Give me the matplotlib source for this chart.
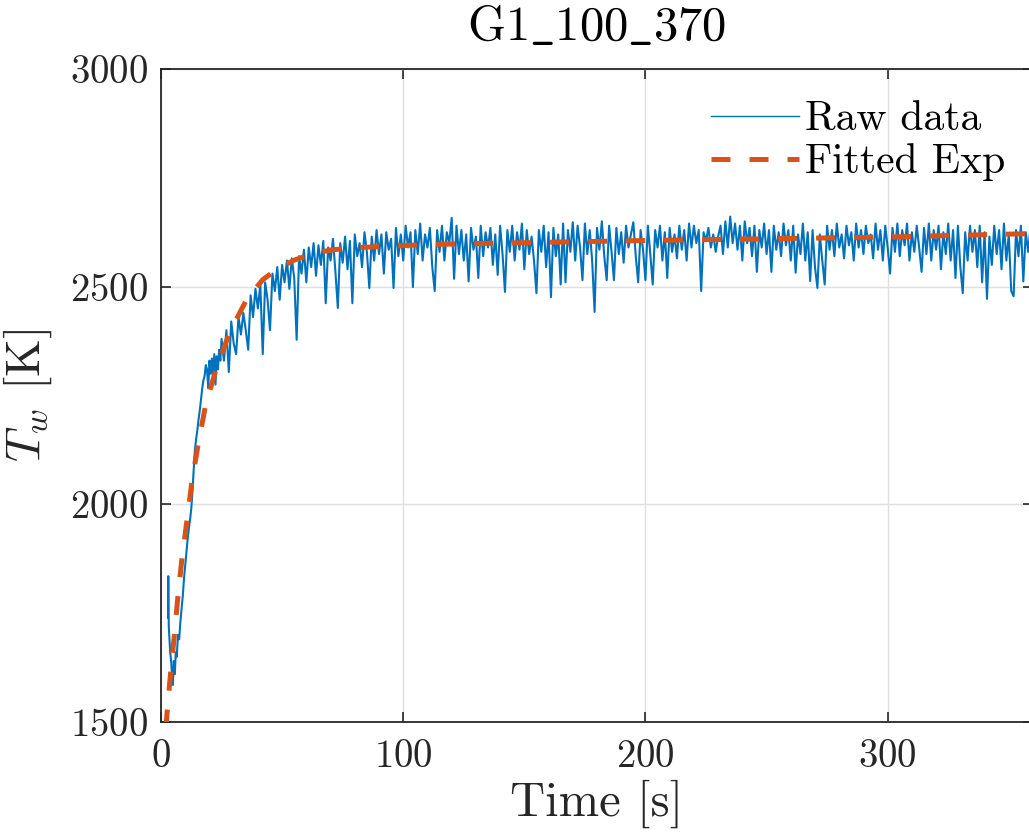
import numpy as np
import matplotlib
matplotlib.use("Agg")
import matplotlib.pyplot as plt

# ---------------- data ----------------
# early rise of the raw signal (explicit sample times)
rise_t = [2.9, 3.0, 3.2, 3.5, 3.8, 4.2, 4.6, 4.9, 5.3, 5.7, 6.1, 6.5, 7.0, 7.5,
          8.0, 8.5, 9.0, 9.5, 10.0, 10.5, 11.0, 11.5, 12.0, 12.5, 13.0, 13.5,
          14.0, 14.5, 15.0, 15.5, 16.0, 16.5, 17.0, 17.5, 18.0, 18.5, 19.0,
          19.5, 20.0, 20.5, 21.0, 21.5, 22.0, 22.5, 23.0, 23.5, 24.0, 24.5]
rise_T = [1740, 1835, 1720, 1690, 1660, 1640, 1600, 1585, 1640, 1610, 1660, 1650,
          1700, 1690, 1730, 1760, 1790, 1830, 1860, 1890, 1920, 1945, 1965, 1990,
          2030, 2080, 2125, 2150, 2170, 2195, 2215, 2240, 2265, 2285, 2295, 2320,
          2310, 2267, 2330, 2300, 2335, 2290, 2345, 2275, 2340, 2310, 2355, 2330]

# plateau of the raw signal, one sample per second from t = 25 s
plateau_start = 25
plateau_T = [
    2380, 2330, 2400, 2304, 2420, 2370, 2345, 2430, 2390, 2440,
    2400, 2355, 2480, 2430, 2495, 2450, 2505, 2345, 2510, 2470,
    2400, 2530, 2490, 2545, 2470, 2550, 2510, 2560, 2495, 2565,
    2520, 2378, 2570, 2530, 2585, 2510, 2590, 2545, 2600, 2525,
    2595, 2550, 2605, 2462, 2590, 2560, 2610, 2535, 2451, 2600,
    2555, 2615, 2540, 2605, 2462, 2620, 2570, 2600, 2545, 2625,
    2580, 2497, 2615, 2560, 2630, 2575, 2620, 2530, 2625, 2585,
    2610, 2497, 2635, 2570, 2620, 2560, 2640, 2590, 2625, 2499,
    2630, 2575, 2645, 2560, 2620, 2590, 2635, 2545, 2490, 2630,
    2580, 2640, 2560, 2625, 2600, 2658, 2518, 2640, 2575, 2630,
    2560, 2620, 2512, 2635, 2585, 2615, 2520, 2640, 2570, 2625,
    2590, 2635, 2550, 2620, 2527, 2640, 2575, 2488, 2630, 2580,
    2640, 2560, 2625, 2585, 2645, 2540, 2630, 2575, 2615, 2560,
    2485, 2630, 2580, 2640, 2545, 2625, 2476, 2635, 2570, 2620,
    2505, 2645, 2510, 2630, 2580, 2648, 2560, 2640, 2590, 2515,
    2645, 2575, 2630, 2560, 2442, 2635, 2585, 2650, 2570, 2515,
    2640, 2580, 2515, 2635, 2575, 2625, 2555, 2640, 2590, 2620,
    2648, 2570, 2510, 2630, 2585, 2515, 2640, 2575, 2505, 2630,
    2590, 2640, 2560, 2625, 2520, 2635, 2580, 2620, 2565, 2640,
    2585, 2630, 2560, 2645, 2590, 2640, 2600, 2630, 2490, 2625,
    2605, 2635, 2590, 2620, 2580, 2615, 2640, 2575, 2650, 2590,
    2661, 2600, 2645, 2585, 2640, 2560, 2650, 2600, 2635, 2570,
    2640, 2534, 2630, 2590, 2645, 2575, 2630, 2534, 2640, 2585,
    2625, 2570, 2645, 2595, 2630, 2560, 2640, 2532, 2620, 2575,
    2645, 2560, 2625, 2513, 2630, 2545, 2497, 2620, 2560, 2505,
    2640, 2585, 2630, 2570, 2645, 2590, 2620, 2565, 2640, 2595,
    2625, 2560, 2645, 2590, 2630, 2575, 2640, 2600, 2620, 2565,
    2645, 2585, 2630, 2560, 2640, 2590, 2530, 2635, 2580, 2645,
    2570, 2630, 2595, 2645, 2560, 2625, 2580, 2640, 2590, 2534,
    2635, 2575, 2645, 2560, 2630, 2585, 2640, 2540, 2625, 2575,
    2645, 2560, 2630, 2520, 2640, 2545, 2485, 2625, 2560, 2640,
    2580, 2630, 2545, 2640, 2510, 2625, 2472, 2615, 2550, 2640,
    2575, 2630, 2540, 2645, 2560, 2620, 2490, 2478, 2630, 2570,
    2640, 2512, 2625, 2580, 2640, 2590,
]

# fitted exponential curve, read at points along the dashed line
fit_t = [2.0, 2.5, 4.0, 5.5, 7.0, 8.7, 10.7, 12.8, 15.4, 18.5, 23.0, 28.5,
         35.4, 42.0, 47.8, 55.0, 62.8, 70.0, 78.0, 86.0, 94.6, 111.0, 150.0,
         200.0, 250.0, 300.0, 360.0]
fit_T = [1485, 1521, 1615, 1698, 1790, 1878, 1962, 2054, 2140, 2230, 2315, 2397,
         2471, 2516, 2540, 2561, 2576, 2584, 2589, 2591, 2593, 2597, 2601,
         2606, 2610, 2614, 2622]

title_text = r"$\mathrm{G1\_100\_370}$"
x_ticks = [0, 100, 200, 300]
y_ticks = [1500, 2000, 2500, 3000]

# ---------------- style ----------------
plt.rcParams["font.family"] = ["cmr10", "DejaVu Serif"]
plt.rcParams["mathtext.fontset"] = "cm"
plt.rcParams["axes.unicode_minus"] = False
plt.rcParams["axes.formatter.use_mathtext"] = True

BLUE = "#0072BD"
ORANGE = "#D95319"
DARK = "#262626"

fig = plt.figure(figsize=(10.29, 8.40), dpi=100)
ax = fig.add_axes([161 / 1029, (840 - 722) / 840, (1033 - 161) / 1029, 653 / 840])

raw_t = np.concatenate([np.array(rise_t),
                        plateau_start + np.arange(len(plateau_T))])
raw_T = np.concatenate([np.array(rise_T), np.array(plateau_T)])

ax.plot(raw_t, raw_T, color=BLUE, lw=1.5, label="Raw data", zorder=2)
ax.plot(fit_t, fit_T, color=ORANGE, lw=3.6, ls=(0, (3.8, 3.8)),
        label="Fitted Exp", zorder=3)

ax.set_xlim(0, 360)
ax.set_ylim(1500, 3000)
ax.set_xticks(x_ticks)
ax.set_yticks(y_ticks)
ax.grid(True, color="#dfdfdf", lw=1.0)
ax.set_axisbelow(True)

for s in ax.spines.values():
    s.set_color(DARK)
    s.set_linewidth(1.3)

ax.tick_params(axis="both", direction="in", length=7, width=1.2, color=DARK,
               labelsize=28, labelcolor=DARK, top=True, right=True)
ax.tick_params(axis="x", pad=12)
ax.tick_params(axis="y", pad=9)

ax.set_title(title_text, fontsize=35, pad=21, color="black")
ax.set_xlabel("Time [s]", fontsize=35, color=DARK, labelpad=4)
ax.set_ylabel(r"$T_w$ [K]", fontsize=35, color=DARK, labelpad=12)

leg = ax.legend(loc="upper right", bbox_to_anchor=((1005 - 161) / 872, (722 - 101) / 653),
                frameon=False, fontsize=30, handlelength=2.1, handletextpad=0.15,
                borderaxespad=0, borderpad=0, labelspacing=0.12)
leg.get_lines()[0].set_linewidth(1.0)

fig.savefig("out.png", dpi=100)
